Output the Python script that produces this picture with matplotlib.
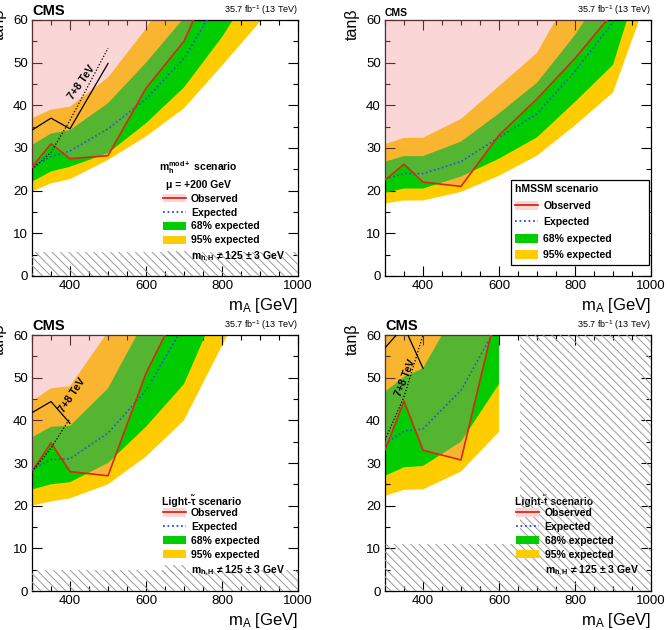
import matplotlib
matplotlib.use("Agg")
import matplotlib.pyplot as plt
from matplotlib.patches import Patch
from matplotlib.lines import Line2D
from matplotlib.ticker import FixedLocator, MultipleLocator

plt.rcParams['font.family'] = ['Liberation Sans', 'DejaVu Sans']
plt.rcParams['mathtext.fontset'] = 'custom'
plt.rcParams['mathtext.rm'] = 'Liberation Sans'
plt.rcParams['mathtext.it'] = 'Liberation Sans:italic'
plt.rcParams['mathtext.bf'] = 'Liberation Sans:bold'
plt.rcParams['hatch.linewidth'] = 0.7

# ---------------- data ----------------
# m_h^mod+ scenario
mod_m = [300, 350, 400, 500, 600, 700, 800, 900, 1000]
mod_obs = [25.5, 31.0, 27.5, 28.2, 44.0, 55.0, 75, 90, 100]
mod_exp = [25.5, 28.0, 29.3, 34.5, 41.5, 51.0, 66, 80, 95]
mod_lo68 = [22.1, 24.5, 25.6, 28.8, 35.8, 44.2, 56.0, 70, 85]
mod_hi68 = [30.7, 33.4, 34.2, 40.5, 50.0, 60.5, 75, 90, 100]
mod_lo95 = [19.8, 21.7, 22.7, 27.2, 32.7, 39.3, 49.3, 59.6, 70]
mod_hi95 = [37.0, 39.0, 39.7, 46.5, 58.0, 72, 85, 95, 100]
mod_run1_obs_m = [300, 350, 400, 500]
mod_run1_obs = [34.2, 37.0, 34.5, 49.8]
mod_run1_exp_m = [300, 350, 400, 500]
mod_run1_exp = [25.0, 29.0, 36.5, 53.4]
mod_excl_tb = 5.7

# hMSSM scenario
hm_m = [300, 350, 400, 500, 600, 700, 800, 900, 1000]
hm_obs = [22.5, 26.2, 22.0, 21.0, 33.0, 41.5, 51.0, 61.7, 75]
hm_exp = [22.8, 24.0, 24.0, 26.8, 32.5, 38.0, 48.0, 59.5, 75]
hm_lo68 = [19.5, 20.5, 20.5, 23.3, 27.5, 32.5, 40.8, 49.5, 78]
hm_hi68 = [26.8, 28.1, 28.1, 31.5, 38.1, 45.3, 56.5, 70, 85]
hm_lo95 = [17.0, 17.7, 17.7, 19.7, 23.5, 28.2, 35.3, 43.0, 67.6]
hm_hi95 = [30.9, 32.4, 32.4, 36.8, 44.5, 52.3, 68, 80, 90]

# light-stau scenario
ls_m = [300, 350, 400, 500, 600, 700, 800, 900]
ls_obs = [28.0, 34.7, 28.0, 27.0, 51.0, 69, 85, 95]
ls_exp = [28.5, 30.8, 31.0, 37.0, 47.0, 62.3, 80, 95]
ls_lo68 = [23.8, 25.0, 25.5, 30.0, 38.5, 48.5, 69, 85]
ls_hi68 = [36.0, 38.5, 38.7, 47.5, 64.0, 80, 95, 100]
ls_lo95 = [20.0, 21.0, 21.7, 25.0, 31.5, 40.0, 57.5, 75]
ls_hi95 = [44.5, 47.5, 48.0, 60.8, 75, 90, 100, 100]
ls_run1_obs_m = [300, 350, 400]
ls_run1_obs = [41.8, 44.4, 39.3]
ls_run1_exp_m = [300, 350, 400]
ls_run1_exp = [28.0, 33.5, 40.5]
ls_excl_tb = 5.0

# light-stop scenario
lt_m = [300, 350, 400, 500, 600]
lt_obs = [33.0, 44.5, 33.0, 30.7, 68.0]
lt_exp = [34.5, 37.5, 38.0, 47.0, 63.0]
lt_lo68 = [27.0, 29.0, 29.3, 35.0, 48.5]
lt_hi68 = [46.7, 50.2, 52.2, 67.8, 85.0]
lt_lo95 = [22.3, 23.7, 23.8, 28.0, 37.3]
lt_hi95 = [75, 80, 85, 95, 100]
lt_run1_obs_m = [300, 350, 400]
lt_run1_obs = [57.0, 62.0, 52.2]
lt_run1_exp_m = [300, 350, 400]
lt_run1_exp = [35.4, 45.5, 60.0]
lt_excl_tb = 11.0
lt_excl_mA = [655, 1000]

# ---------------- style ----------------
YELLOW = '#FFCC00'
GREEN = '#00CC00'
PINK_OVER = (0.95, 0.55, 0.55, 0.35)
PINK_SOLID = '#FAD7D7'
RED = '#D8281C'
BLUE = '#2B4FD8'
HATCH_C = '#9A9A9A'
HATCH = '\\\\\\\\'

fig = plt.figure(figsize=(6.7, 6.3), dpi=100)

W = 266 / 670
H = 256 / 630
pos = [(32 / 670, 354 / 630), (385 / 670, 354 / 630),
       (32 / 670, 39 / 630), (385 / 670, 39 / 630)]
axes = [fig.add_axes([x, y, W, H]) for x, y in pos]

LEG_FS = 7.5


def base(ax, cms_size=10.5):
    ax.set_xlim(300, 1000)
    ax.set_ylim(0, 60)
    ax.xaxis.set_major_locator(FixedLocator([400, 600, 800, 1000]))
    ax.xaxis.set_minor_locator(MultipleLocator(50))
    ax.yaxis.set_major_locator(MultipleLocator(10))
    ax.yaxis.set_minor_locator(MultipleLocator(5))
    ax.tick_params(which='both', direction='in', top=True, right=True,
                   labelsize=9.5, width=0.8, pad=3)
    ax.tick_params(which='major', length=7)
    ax.tick_params(which='minor', length=3.5)
    for s in ax.spines.values():
        s.set_linewidth(0.9)
    ax.set_xlabel('m$_\\mathregular{A}$ [GeV]', fontsize=12, loc='right')
    ax.xaxis.set_label_coords(1.0, -0.078)
    ax.set_ylabel('tan\u03b2', fontsize=11.5, loc='top')
    ax.yaxis.set_label_coords(-0.095, 1.045)
    ax.text(0.0, 1.008, 'CMS', transform=ax.transAxes, fontsize=cms_size,
            fontweight='bold', ha='left', va='bottom')
    ax.text(1.0, 1.012, '35.7 fb$^{-1}$ (13 TeV)', transform=ax.transAxes,
            fontsize=6.5, ha='right', va='bottom')


def bands(ax, m, obs, exp, lo68, hi68, lo95, hi95):
    ax.fill_between(m, lo95, hi95, facecolor=YELLOW, edgecolor='none', zorder=1)
    ax.fill_between(m, lo68, hi68, facecolor=GREEN, edgecolor='none', zorder=2)
    ax.fill_between(m, obs, [200] * len(m), facecolor=PINK_OVER,
                    edgecolor='none', zorder=3)
    ax.plot(m, exp, color=BLUE, ls=(0, (1, 1.5)), lw=1.2, zorder=5)
    ax.plot(m, obs, color=RED, lw=1.2, zorder=6)


def run1(ax, om, ov, em, ev, txt_xy, rot):
    ax.plot(om, ov, color='black', lw=0.9, zorder=7)
    ax.plot(em, ev, color='black', lw=0.9, ls=(0, (1, 1.5)), zorder=7)
    ax.text(txt_xy[0], txt_xy[1], '7+8 TeV', rotation=rot, fontsize=7.5,
            fontweight='bold', ha='center', va='center', zorder=8,
            rotation_mode='anchor')


def hatch_region(ax, x, y0, y1):
    ax.fill_between(x, y0, y1, facecolor='none', edgecolor=HATCH_C,
                    hatch=HATCH, lw=0, zorder=4)


obs_h = (Patch(facecolor=PINK_SOLID, edgecolor='none'),
         Line2D([], [], color=RED, lw=1.3))
exp_h = Line2D([], [], color=BLUE, ls=(0, (1, 1.5)), lw=1.3)
g_h = Patch(facecolor=GREEN, edgecolor='none')
y_h = Patch(facecolor=YELLOW, edgecolor='none')
hat_h = Patch(facecolor='none', edgecolor=HATCH_C, hatch=HATCH, lw=0)
LABELS = ['Observed', 'Expected', '68% expected', '95% expected']
HAT_LABEL = 'm$_{\\mathbf{h,H}}$ \u2260 125 \u00b1 3 GeV'


def legend_nobox(ax, x, y, with_hatch=True):
    handles = [obs_h, exp_h, g_h, y_h]
    labels = list(LABELS)
    if with_hatch:
        handles.append(hat_h)
        labels.append(HAT_LABEL)
    leg = ax.legend(handles, labels, loc='upper left', bbox_to_anchor=(x, y),
                    frameon=False, borderpad=0, borderaxespad=0,
                    handlelength=2.2, handleheight=0.9, handletextpad=0.5,
                    labelspacing=0.38, prop={'weight': 'bold', 'size': LEG_FS})
    leg.set_zorder(10)
    return leg


# ---- panel 1: mhmod+ ----
ax = axes[0]
base(ax)
bands(ax, mod_m, mod_obs, mod_exp, mod_lo68, mod_hi68, mod_lo95, mod_hi95)
run1(ax, mod_run1_obs_m, mod_run1_obs, mod_run1_exp_m, mod_run1_exp,
     (430, 45.3), 55)
hatch_region(ax, [300, 1000], 0, mod_excl_tb)
ax.text(0.627, 0.397,
        'm$_{\\mathbf{h}}^{\\mathbf{mod+}}$ scenario\n\u03bc = +200 GeV',
        transform=ax.transAxes, ha='center', va='center', multialignment='center',
        fontsize=LEG_FS, fontweight='bold', linespacing=1.5)
legend_nobox(ax, 0.492, 0.322)

# ---- panel 2: hMSSM ----
ax = axes[1]
base(ax, cms_size=7.5)
bands(ax, hm_m, hm_obs, hm_exp, hm_lo68, hm_hi68, hm_lo95, hm_hi95)
leg = ax.legend([obs_h, exp_h, g_h, y_h], LABELS, loc='lower left',
                bbox_to_anchor=(0.472, 0.043, 0.522, 0.332), mode='expand',
                frameon=True, fancybox=False, edgecolor='black',
                framealpha=1, borderpad=0.45, borderaxespad=0,
                handlelength=2.2, handleheight=0.9, handletextpad=0.5,
                labelspacing=0.62, title='hMSSM scenario', alignment='left',
                title_fontproperties={'weight': 'bold', 'size': LEG_FS},
                prop={'weight': 'bold', 'size': LEG_FS})
leg.get_frame().set_linewidth(0.9)
leg.set_zorder(10)

# ---- panel 3: light stau ----
ax = axes[2]
base(ax)
bands(ax, ls_m, ls_obs, ls_exp, ls_lo68, ls_hi68, ls_lo95, ls_hi95)
run1(ax, ls_run1_obs_m, ls_run1_obs, ls_run1_exp_m, ls_run1_exp,
     (407, 46), 56)
hatch_region(ax, [300, 1000], 0, ls_excl_tb)
ax.text(0.489, 0.355, 'Light-\u03c4\u0303 scenario', transform=ax.transAxes,
        ha='left', va='center', fontsize=LEG_FS, fontweight='bold')
legend_nobox(ax, 0.492, 0.325)

# ---- panel 4: light stop ----
ax = axes[3]
base(ax)
bands(ax, lt_m, lt_obs, lt_exp, lt_lo68, lt_hi68, lt_lo95, lt_hi95)
run1(ax, lt_run1_obs_m, lt_run1_obs, lt_run1_exp_m, lt_run1_exp,
     (354, 50), 68)
hatch_region(ax, [300, 1000], 0, lt_excl_tb)
hatch_region(ax, lt_excl_mA, lt_excl_tb, 60)
ax.text(0.487, 0.355, 'Light-t\u0303 scenario', transform=ax.transAxes,
        ha='left', va='center', fontsize=LEG_FS, fontweight='bold')
legend_nobox(ax, 0.494, 0.325)

fig.savefig('out.png', dpi=100)
